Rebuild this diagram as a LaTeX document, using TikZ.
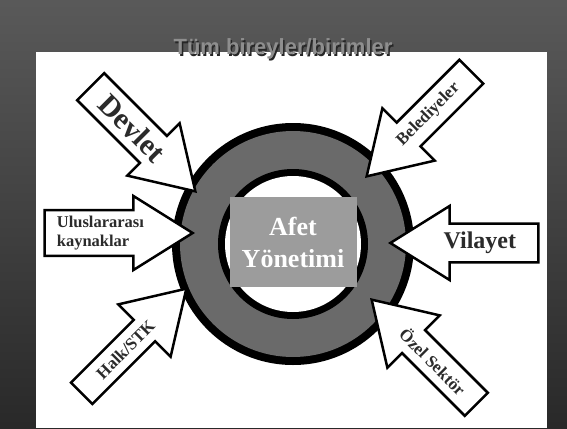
\documentclass[tikz,border=0pt]{standalone}
\usepackage{fontspec}
\setmainfont{Liberation Serif}
\setsansfont{Liberation Sans}
\usetikzlibrary{shapes.arrows}
\definecolor{ringgray}{HTML}{6A6A6A}
\definecolor{boxgray}{HTML}{9C9C9C}
\definecolor{labelgray}{HTML}{2B2B2B}
\definecolor{titlegray}{HTML}{8E8E8E}
\begin{document}
\begin{tikzpicture}[x=1pt,y=-1pt,
 inarrow/.style={single arrow,draw=black,line width=2.5pt,fill=white,minimum width=74pt,single arrow head extend=12pt,single arrow tip angle=64,minimum height=148pt,inner sep=1pt,text=labelgray},
 hubbox/.style={fill=boxgray,minimum width=127pt,minimum height=90pt,align=center,text=white,font=\bfseries\fontsize{26}{32}\selectfont},
 titlefont/.style={font=\sffamily\bfseries\fontsize{22}{26}\selectfont}]
\useasboundingbox (0,0) rectangle (567,428);
\shade[top color=black!65,bottom color=black!84] (0,0) rectangle (567,428);
\fill[white] (36,52) rectangle (547,428);
\node[titlefont,text=black!85] (titleshadow) at (284.5,50.5) {Tüm bireyler/birimler};
\node[titlefont,text=titlegray] (title) at (283,49) {Tüm bireyler/birimler};
\coordinate (hub) at (293,244);
\fill[black] (hub) circle[radius=121];
\fill[ringgray] (hub) circle[radius=113];
\fill[black] (hub) circle[radius=75];
\fill[white] (hub) circle[radius=68];
\node[hubbox] (afet) at (293,242) {Afet\\Yönetimi};
\node[inarrow,anchor=tip,rotate=-45,font=\bfseries\fontsize{30}{32}\selectfont] (devlet) at (197,193) {Devlet};
\node[inarrow,anchor=tip,rotate=45,shape border rotate=180,font=\bfseries\fontsize{17}{19}\selectfont] (beled) at (365,178) {Belediyeler};
\node[inarrow,anchor=tip,align=left,font=\bfseries\fontsize{16.5}{19}\selectfont] (ulus) at (195,233) {Uluslararası\\kaynaklar};
\node[inarrow,anchor=tip,shape border rotate=180,font=\bfseries\fontsize{24}{26}\selectfont] (vilayet) at (388,243) {Vilayet};
\node[inarrow,anchor=tip,rotate=45,font=\bfseries\fontsize{17}{19}\selectfont] (halk) at (188,287) {Halk/STK};
\node[inarrow,anchor=tip,rotate=-45,shape border rotate=180,font=\bfseries\fontsize{17}{19}\selectfont] (ozel) at (370,298) {Özel Sektör};
\end{tikzpicture}
\end{document}
